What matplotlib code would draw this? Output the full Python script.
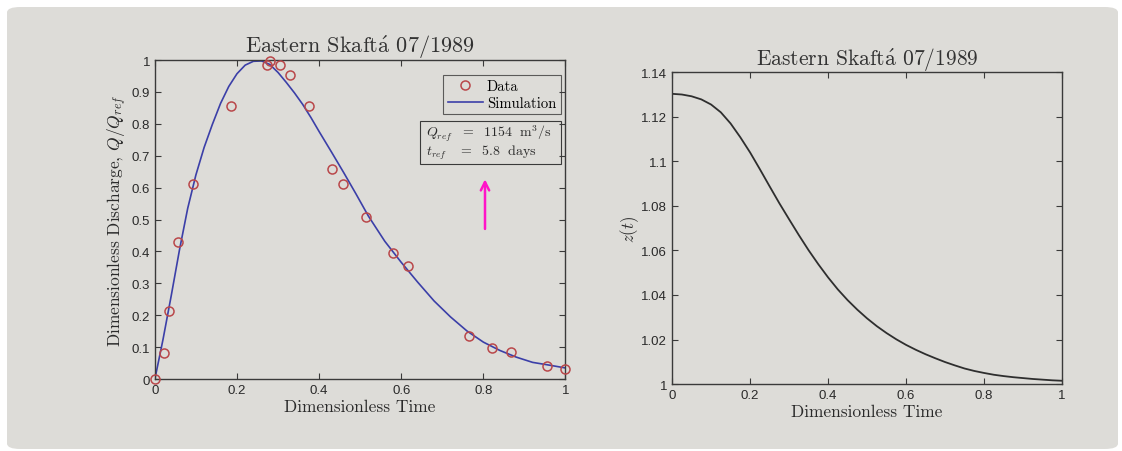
import matplotlib
matplotlib.use("Agg")
import matplotlib.pyplot as plt
from matplotlib.patches import FancyBboxPatch, Rectangle
from matplotlib.ticker import FuncFormatter

plt.rcParams['mathtext.fontset'] = 'cm'

# ---------------- data ----------------
title_text = r"Eastern Skaft$\mathrm{\acute{a}}$ 07/1989"

data_t = [0.0, 0.022, 0.034, 0.056, 0.094, 0.185, 0.273, 0.281, 0.306, 0.330,
          0.375, 0.432, 0.457, 0.513, 0.580, 0.617, 0.766, 0.821, 0.868, 0.955, 1.0]
data_q = [0.0, 0.081, 0.212, 0.429, 0.613, 0.856, 0.984, 0.996, 0.984, 0.953,
          0.857, 0.660, 0.610, 0.508, 0.395, 0.356, 0.135, 0.097, 0.086, 0.042, 0.032]

sim_t = [0.0, 0.01, 0.02, 0.04, 0.06, 0.08, 0.10, 0.12, 0.14, 0.16, 0.18, 0.20, 0.22,
         0.24, 0.26, 0.28, 0.30, 0.32, 0.34, 0.36, 0.38, 0.40, 0.43, 0.46, 0.49, 0.52,
         0.56, 0.60, 0.64, 0.68, 0.72, 0.76, 0.80, 0.84, 0.88, 0.92, 0.96, 1.00]
sim_q = [0.0, 0.062, 0.125, 0.262, 0.405, 0.535, 0.640, 0.726, 0.798, 0.864, 0.917, 0.957, 0.984,
         0.996, 0.997, 0.986, 0.961, 0.930, 0.897, 0.861, 0.820, 0.776, 0.712, 0.647, 0.580, 0.511,
         0.432, 0.366, 0.304, 0.245, 0.195, 0.151, 0.116, 0.090, 0.069, 0.0525, 0.044, 0.035]

z_t = [0.0, 0.025, 0.05, 0.075, 0.10, 0.125, 0.15, 0.175, 0.20, 0.225, 0.25, 0.275, 0.30,
       0.325, 0.35, 0.375, 0.40, 0.425, 0.45, 0.475, 0.50, 0.525, 0.55, 0.575, 0.60, 0.625,
       0.65, 0.675, 0.70, 0.725, 0.75, 0.775, 0.80, 0.825, 0.85, 0.875, 0.90, 0.925, 0.95,
       0.975, 1.00]
z_val = [1.1303, 1.1300, 1.1292, 1.1278, 1.1255, 1.1220, 1.1170, 1.1108, 1.1040, 1.0965,
         1.0888, 1.0812, 1.0740, 1.0669, 1.0601, 1.0538, 1.0479, 1.0425, 1.0377, 1.0334,
         1.0295, 1.0260, 1.0229, 1.0201, 1.0176, 1.0154, 1.0134, 1.0116, 1.0099, 1.0084,
         1.0070, 1.0059, 1.0050, 1.0042, 1.0036, 1.0031, 1.0027, 1.0023, 1.0020, 1.0017, 1.0015]

x_ticks = [0, 0.2, 0.4, 0.6, 0.8, 1.0]
q_ticks = [0, 0.1, 0.2, 0.3, 0.4, 0.5, 0.6, 0.7, 0.8, 0.9, 1.0]
z_ticks = [1.0, 1.02, 1.04, 1.06, 1.08, 1.10, 1.12, 1.14]

legend_labels = ["Data", "Simulation"]
info_lines = [r"$Q_{ref}\ \ =\ \ 1154\ \ \mathrm{m^3/s}$", r"$t_{ref}\ \ \ =\ \ 5.8\ \ \mathrm{days}$"]

# ---------------- style ----------------
serif = ['cmr10', 'DejaVu Serif']
tick_font = 'Liberation Sans'
bg = '#dddcd8'
frame_col = '#3a3a3a'
red = '#b9474a'
blue = '#3b3fa8'

fig = plt.figure(figsize=(11.22, 4.52), dpi=100)
fig.patch.set_facecolor('white')
photo = FancyBboxPatch((7 / 1122, 2 / 452), 1111 / 1122, 442 / 452,
                       boxstyle="round,pad=0,rounding_size=0.012",
                       transform=fig.transFigure, facecolor=bg, edgecolor='none', zorder=-5)
fig.patches.append(photo)

fmt = FuncFormatter(lambda v, p: ('%g' % round(v, 4)))


def style_axes(ax):
    ax.set_facecolor('none')
    for s in ax.spines.values():
        s.set_color(frame_col)
        s.set_linewidth(1.0)
    ax.tick_params(direction='in', top=True, right=True, length=4, width=0.8,
                   colors=frame_col, labelcolor='#2a2a2a', labelsize=9.5)
    for lab in ax.get_xticklabels() + ax.get_yticklabels():
        lab.set_fontfamily(tick_font)
    ax.xaxis.set_major_formatter(fmt)
    ax.yaxis.set_major_formatter(fmt)


# ---------------- left panel ----------------
ax1 = fig.add_axes([0.138, 0.159, 0.366, 0.706])
ax1.plot(data_t, data_q, 'o', mfc='none', mec=red, ms=6.5, mew=1.1, label=legend_labels[0],
         clip_on=False, zorder=3)
ax1.plot(sim_t, sim_q, '-', color=blue, lw=1.2, label=legend_labels[1], zorder=2)
ax1.set_xlim(0, 1)
ax1.set_ylim(0, 1)
ax1.set_xticks(x_ticks)
ax1.set_yticks(q_ticks)
style_axes(ax1)
ax1.set_title(title_text, fontfamily=serif, fontsize=16, color='#333333', pad=6)
ax1.set_xlabel("Dimensionless Time", fontfamily=serif, fontsize=12.5, color='#2a2a2a', labelpad=2)
ax1.set_ylabel(r"Dimensionless Discharge, $Q/Q_{ref}$", fontfamily=serif, fontsize=12.5,
               color='#2a2a2a', labelpad=2)

leg = ax1.legend(loc='upper right', bbox_to_anchor=(0.988, 0.952), frameon=True, fancybox=False,
                 edgecolor=frame_col, facecolor='none', prop={'family': serif, 'size': 10.5},
                 handlelength=2.4, borderpad=0.3, labelspacing=0.2, handletextpad=0.3,
                 borderaxespad=0.0)
leg.get_frame().set_linewidth(0.8)

ax1.add_patch(Rectangle((0.646, 0.674), 0.342, 0.135, transform=ax1.transAxes,
                        facecolor='none', edgecolor=frame_col, lw=0.8, zorder=4))
ax1.text(0.660, 0.773, info_lines[0], transform=ax1.transAxes, fontsize=10, color='#2a2a2a',
         va='center', ha='left')
ax1.text(0.660, 0.712, info_lines[1], transform=ax1.transAxes, fontsize=10, color='#2a2a2a',
         va='center', ha='left')

ax1.annotate('', xy=(0.804, 0.635), xytext=(0.804, 0.462),
             arrowprops=dict(arrowstyle='->', color='#ff14c8', lw=1.8, mutation_scale=15))

# ---------------- right panel ----------------
ax2 = fig.add_axes([0.599, 0.148, 0.3476, 0.690])
ax2.plot(z_t, z_val, '-', color='#2e2e2e', lw=1.3)
ax2.set_xlim(0, 1)
ax2.set_ylim(1.0, 1.14)
ax2.set_xticks(x_ticks)
ax2.set_yticks(z_ticks)
style_axes(ax2)
ax2.set_title(title_text, fontfamily=serif, fontsize=15.5, color='#333333', pad=6)
ax2.set_xlabel("Dimensionless Time", fontfamily=serif, fontsize=12.5, color='#2a2a2a', labelpad=2)
ax2.set_ylabel(r"$z(t)$", fontsize=12, color='#2a2a2a', labelpad=0)

fig.savefig("out.png", dpi=100, facecolor=fig.get_facecolor())
